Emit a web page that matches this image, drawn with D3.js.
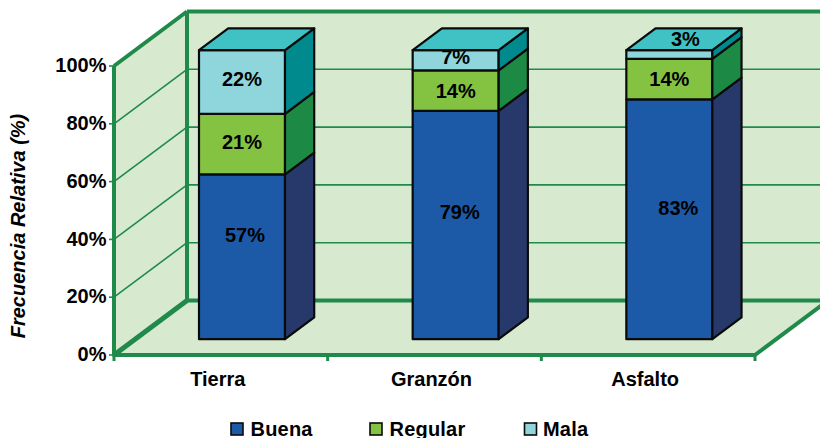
<!DOCTYPE html>
<html><head><meta charset="utf-8">
<script src="https://cdn.jsdelivr.net/npm/d3@7"></script>
<style>html,body{margin:0;background:#fff}svg{display:block}text{font-family:"Liberation Sans",Arial,sans-serif;font-weight:bold;fill:#000}</style>
</head><body><svg id="c" width="820" height="438"></svg>
<script>
const categories = ["Tierra","Granzón","Asfalto"];
const seriesNames = ["Buena","Regular","Mala"];
const buena = [57,79,83];
const regular = [21,14,14];
const mala = [22,7,3];
const tickValues = [0,20,40,60,80,100];

const series = [buena,regular,mala];
const front = {"Buena":"#1c5aa8","Regular":"#84c341","Mala":"#8ed5dc"};
const side = {"Buena":"#27386b","Regular":"#1c8a44","Mala":"#008a8e"};
const topFace = "#40c2c4", wall = "#d7ead0", green = "#1f8a4a", ink = "#0a0a0a";
const svg = d3.select("#c");
const FS = 20;

const x = d3.scaleBand().domain(categories).range([114,755]);
const y = d3.scaleLinear().domain([0,100]).range([355,66]);
const dep = {dx:73, dy:-54.5};
const bar = {w:86, near:0.29, far:0.69};
const P = (px,py,d)=>[px+dep.dx*d, py+dep.dy*d];
const poly = pts=>pts.map(p=>p.join(",")).join(" ");
const yTop = y(100), yBase = y(0), xL = x.range()[0], xR = x.range()[1];

svg.append("polygon").attr("points",poly([P(xL,yBase,1),P(xR,yBase,1),P(xR,yTop,1),P(xL,yTop,1)])).attr("fill",wall);
svg.append("polygon").attr("points",poly([[xL,yBase],P(xL,yBase,1),P(xL,yTop,1),[xL,yTop]])).attr("fill",wall);
svg.append("polygon").attr("points",poly([[xL,yBase],[xR,yBase],P(xR,yBase,1),P(xL,yBase,1)])).attr("fill",wall);

tickValues.slice(1,-1).forEach(t=>{
  const a=P(xL,y(t),1), b=P(xR,y(t),1);
  svg.append("line").attr("x1",xL).attr("y1",y(t)).attr("x2",a[0]).attr("y2",a[1]).attr("stroke",green).attr("stroke-width",1.6);
  svg.append("line").attr("x1",a[0]).attr("y1",a[1]).attr("x2",b[0]).attr("y2",b[1]).attr("stroke",green).attr("stroke-width",1.6);
});
const thick=(p,q,w=4)=>svg.append("line").attr("x1",p[0]).attr("y1",p[1]).attr("x2",q[0]).attr("y2",q[1]).attr("stroke",green).attr("stroke-width",w);
thick(P(xL,yBase,1),P(xR,yBase,1));
thick(P(xL,yTop,1),P(xR,yTop,1));
thick(P(xL,yBase,1),P(xL,yTop,1));
thick([xL,yTop],P(xL,yTop,1));
thick([xL,yBase],P(xL,yBase,1),5);
thick([xR,yBase],P(xR,yBase,1));
thick([xL,yBase],[xL,yTop]);
thick([xL-1.5,yBase],[xR+1,yBase]);

tickValues.forEach(t=>{
  svg.append("line").attr("x1",xL-5).attr("x2",xL).attr("y1",y(t)).attr("y2",y(t)).attr("stroke",green).attr("stroke-width",1.6);
  svg.append("text").attr("x",106.5).attr("y",y(t)-1).attr("dy","0.36em").attr("text-anchor","end").attr("font-size",FS).text(t+"%");
});
[...categories.map(c=>x(c)),xR].forEach(v=>{
  svg.append("line").attr("x1",v).attr("x2",v).attr("y1",yBase).attr("y2",yBase+6).attr("stroke",green).attr("stroke-width",3);
});
categories.forEach(c=>{
  svg.append("text").attr("x",x(c)+x.bandwidth()/2-3).attr("y",386).attr("text-anchor","middle").attr("font-size",FS).text(c);
});
svg.append("text").attr("transform","translate(25,226) rotate(-90)").attr("text-anchor","middle").attr("font-size",20).attr("font-style","italic").text("Frecuencia Relativa (%)");

const labelLift = [[22,2,3],[13,0,4],[11,0,16]];
const labelShift = [[3,0,0],[4,0,0],[9,0,16]];
const labelsOver = [];
categories.forEach((c,i)=>{
  const left = x(c)+x.bandwidth()/2-bar.w/2;
  const pts=(v,d)=>P(left,y(v),d);
  const ptsR=(v,d)=>P(left+bar.w,y(v),d);
  let acc=0;
  const under=[];
  series.forEach((s,k)=>{
    const v0=acc, v1=acc+s[i]; acc=v1;
    const name=seriesNames[k];
    svg.append("polygon").attr("points",poly([pts(v0,bar.near),ptsR(v0,bar.near),ptsR(v1,bar.near),pts(v1,bar.near)]))
      .attr("fill",front[name]).attr("stroke",ink).attr("stroke-width",2.2).attr("stroke-linejoin","round");
    svg.append("polygon").attr("points",poly([ptsR(v0,bar.near),ptsR(v0,bar.far),ptsR(v1,bar.far),ptsR(v1,bar.near)]))
      .attr("fill",side[name]).attr("stroke",ink).attr("stroke-width",2.2).attr("stroke-linejoin","round");
    const lp=P(left+bar.w/2,y((v0+v1)/2),bar.near);
    const item={x:lp[0]+labelShift[i][k],y:lp[1]-labelLift[i][k],t:s[i]+"%"};
    (s[i]<5?labelsOver:under).push(item);
  });
  under.forEach(drawLabel);
  svg.append("polygon").attr("points",poly([pts(acc,bar.near),ptsR(acc,bar.near),ptsR(acc,bar.far),pts(acc,bar.far)]))
    .attr("fill",topFace).attr("stroke",ink).attr("stroke-width",2.2).attr("stroke-linejoin","round");
});
function drawLabel(d){
  svg.append("text").attr("x",d.x).attr("y",d.y).attr("dy","0.36em").attr("text-anchor","middle").attr("font-size",FS).text(d.t);
}
labelsOver.forEach(drawLabel);

const legendX=[231,370,524.5];
const legendText=[250.5,389.5,543];
seriesNames.forEach((n,k)=>{
  svg.append("rect").attr("x",legendX[k]).attr("y",423).attr("width",12).attr("height",12).attr("fill",front[n]).attr("stroke",ink).attr("stroke-width",1.6);
  svg.append("text").attr("x",legendText[k]).attr("y",435.5).attr("font-size",FS).style("letter-spacing","0.2px").text(n);
});
</script></body></html>
